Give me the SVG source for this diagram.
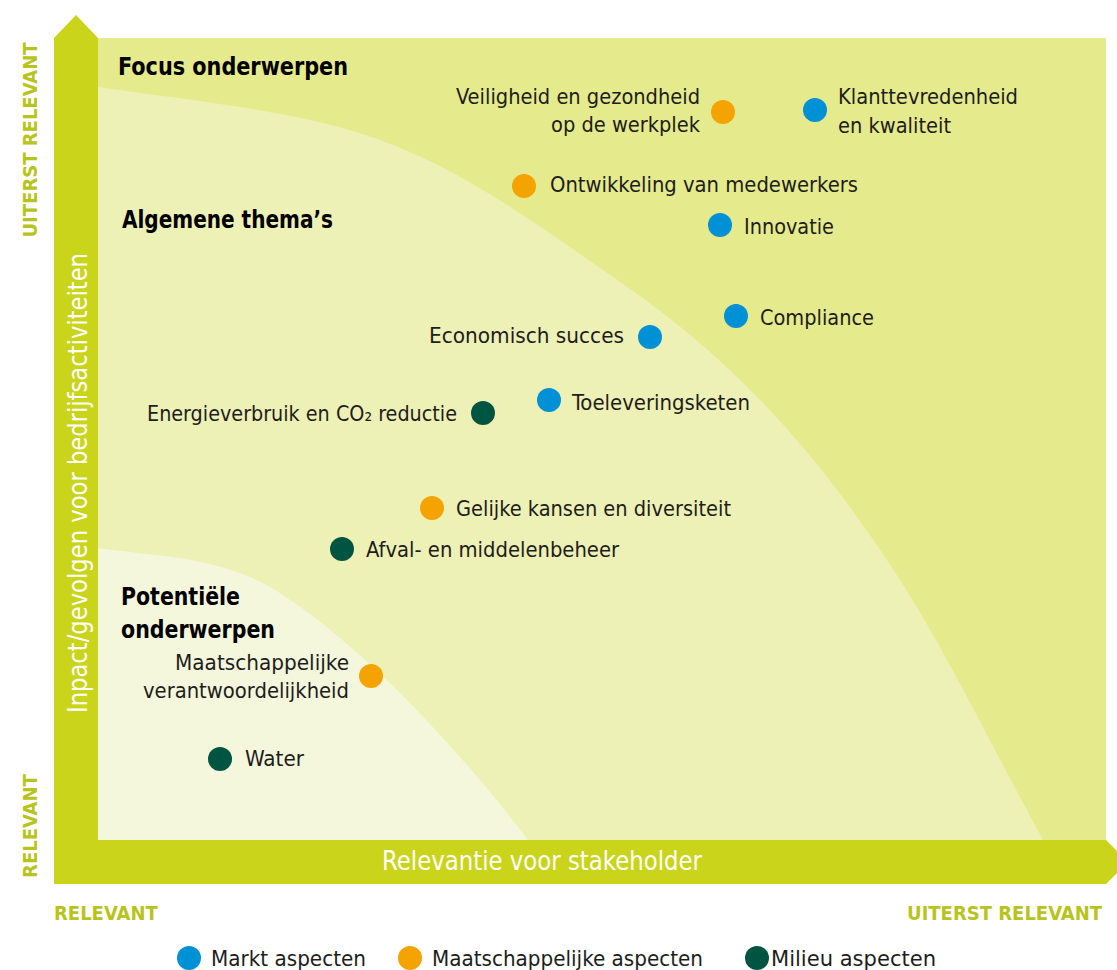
<svg xmlns="http://www.w3.org/2000/svg" width="1117" height="970" viewBox="0 0 1117 970">
<style>
text{font-family:"Liberation Sans Narrow","DejaVu Sans Condensed","Roboto Condensed","Liberation Sans",sans-serif}
.t{font-size:22px;fill:#1d1d1b}
.h{font-size:25px;font-weight:bold;fill:#000}
.ax{font-size:27px;fill:#fff}
.lv{font-size:20px;font-weight:bold;fill:#b7c41d}
.r{text-anchor:end}
.b{fill:#0090d6}.o{fill:#f4a300}.g{fill:#005542}
</style>
<rect width="1117" height="970" fill="#fff"/>
<g id="zones">
<rect x="98" y="38" width="1008" height="802" fill="#e5eb8c"/>
<path d="M98,87 C192,101 296.3,109.8 380,140 C463.7,170.2 536.7,224.7 600,268 C663.3,311.3 710,348 760,400 C810,452 852.8,506.7 900,580 C947.2,653.3 995.3,753.3 1043,840 L98,840 Z" fill="#eef1b5"/>
<path d="M98,548 C158,557 220,556 275,590 C375,652 483,780 528,840 L98,840 Z" fill="#f5f7dc"/>
</g>
<g id="axes">
<path d="M54,38 L76,15 L98,38 L98,840 L1106,840 L1128,862 L1106,884 L54,884 Z" fill="#c9d41b"/>
<text class="ax" transform="translate(87,483) rotate(-90)" text-anchor="middle" textLength="460" lengthAdjust="spacingAndGlyphs">Inpact/gevolgen voor bedrijfsactiviteiten</text>
<text class="ax" x="542" y="870" text-anchor="middle" textLength="320" lengthAdjust="spacingAndGlyphs">Relevantie voor stakeholder</text>
<text class="lv" transform="translate(37,140) rotate(-90)" text-anchor="middle">UITERST RELEVANT</text>
<text class="lv" transform="translate(37,826) rotate(-90)" text-anchor="middle">RELEVANT</text>
<text class="lv" x="54" y="920">RELEVANT</text>
<text class="lv r" x="1102" y="920">UITERST RELEVANT</text>
</g>
<g id="headings">
<text class="h" x="118" y="75" textLength="230" lengthAdjust="spacingAndGlyphs">Focus onderwerpen</text>
<text class="h" x="122" y="228" textLength="211" lengthAdjust="spacingAndGlyphs">Algemene thema’s</text>
<text class="h" x="121" y="605" textLength="119" lengthAdjust="spacingAndGlyphs">Potentiële</text>
<text class="h" x="121" y="638" textLength="154" lengthAdjust="spacingAndGlyphs">onderwerpen</text>
</g>
<g id="veiligheid"><circle class="o" cx="723" cy="112" r="12"/><text class="t r" x="700" y="104" textLength="244" lengthAdjust="spacingAndGlyphs">Veiligheid en gezondheid</text><text class="t r" x="700" y="132" textLength="149" lengthAdjust="spacingAndGlyphs">op de werkplek</text></g>
<g id="klant"><circle class="b" cx="815" cy="110" r="12"/><text class="t" x="838" y="104" textLength="180" lengthAdjust="spacingAndGlyphs">Klanttevredenheid</text><text class="t" x="838" y="133" textLength="113" lengthAdjust="spacingAndGlyphs">en kwaliteit</text></g>
<g id="ontwikkeling"><circle class="o" cx="524" cy="186" r="12"/><text class="t" x="550" y="192" textLength="308" lengthAdjust="spacingAndGlyphs">Ontwikkeling van medewerkers</text></g>
<g id="innovatie"><circle class="b" cx="720" cy="225" r="12"/><text class="t" x="744" y="234" textLength="90" lengthAdjust="spacingAndGlyphs">Innovatie</text></g>
<g id="compliance"><circle class="b" cx="736" cy="316" r="12"/><text class="t" x="760" y="325" textLength="114" lengthAdjust="spacingAndGlyphs">Compliance</text></g>
<g id="economisch"><circle class="b" cx="650" cy="337" r="12"/><text class="t r" x="624" y="343" textLength="195" lengthAdjust="spacingAndGlyphs">Economisch succes</text></g>
<g id="toelevering"><circle class="b" cx="549" cy="400" r="12"/><text class="t" x="572" y="410" textLength="178" lengthAdjust="spacingAndGlyphs">Toeleveringsketen</text></g>
<g id="energie"><circle class="g" cx="483" cy="413" r="12"/><text class="t" x="147" y="421" textLength="310" lengthAdjust="spacingAndGlyphs">Energieverbruik en CO₂ reductie</text></g>
<g id="gelijke"><circle class="o" cx="432" cy="508" r="12"/><text class="t" x="456" y="516" textLength="275" lengthAdjust="spacingAndGlyphs">Gelijke kansen en diversiteit</text></g>
<g id="afval"><circle class="g" cx="342" cy="549" r="12"/><text class="t" x="366" y="557" textLength="253" lengthAdjust="spacingAndGlyphs">Afval- en middelenbeheer</text></g>
<g id="maatschappelijk"><circle class="o" cx="371" cy="676" r="12"/><text class="t r" x="349" y="670" textLength="174" lengthAdjust="spacingAndGlyphs">Maatschappelijke</text><text class="t r" x="349" y="698" textLength="206" lengthAdjust="spacingAndGlyphs">verantwoordelijkheid</text></g>
<g id="water"><circle class="g" cx="220" cy="759" r="12"/><text class="t" x="245" y="766" textLength="59" lengthAdjust="spacingAndGlyphs">Water</text></g>
<g id="legend">
<circle class="b" cx="189" cy="958" r="12"/><text class="t" x="211" y="966" textLength="155" lengthAdjust="spacingAndGlyphs">Markt aspecten</text>
<circle class="o" cx="410" cy="958" r="12"/><text class="t" x="432" y="966" textLength="271" lengthAdjust="spacingAndGlyphs">Maatschappelijke aspecten</text>
<circle class="g" cx="757" cy="958" r="12"/><text class="t" x="771" y="966" textLength="165" lengthAdjust="spacingAndGlyphs">Milieu aspecten</text>
</g>
</svg>
